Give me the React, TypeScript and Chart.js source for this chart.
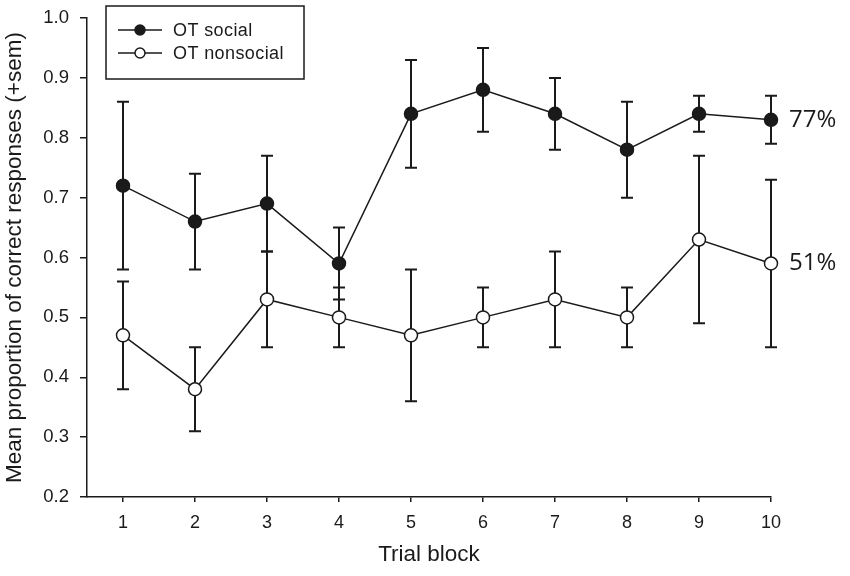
import { Chart, registerables } from "chart.js";
import type { Plugin as ChartPlugin, Scale } from "chart.js";
import { useEffect, useRef } from "react";

Chart.register(...registerables);

const trialBlocks = [1, 2, 3, 4, 5, 6, 7, 8, 9, 10];
const socialMean = [0.72, 0.66, 0.69, 0.59, 0.84, 0.88, 0.84, 0.78, 0.84, 0.83];
const socialSem = [0.14, 0.08, 0.08, 0.06, 0.09, 0.07, 0.06, 0.08, 0.03, 0.04];
const nonsocialMean = [0.47, 0.38, 0.53, 0.5, 0.47, 0.5, 0.53, 0.5, 0.63, 0.59];
const nonsocialSem = [0.09, 0.07, 0.08, 0.05, 0.11, 0.05, 0.08, 0.05, 0.14, 0.14];
const yTicks = [0.2, 0.3, 0.4, 0.5, 0.6, 0.7, 0.8, 0.9, 1.0];
const seriesNames = ["OT social", "OT nonsocial"];
const endLabels = ["77%", "51%"];

const INK = "#1a1a1a";
const SANS = "'Liberation Sans', Arial, sans-serif";

const errorBarPlugin: ChartPlugin = {
    id: "errorBars",
    beforeDatasetsDraw: (chart: Chart) => {
        const ctx = chart.ctx;
        const x = chart.scales.x;
        const y = chart.scales.y;
        const sems = [socialSem, nonsocialSem];
        const means = [socialMean, nonsocialMean];
        ctx.save();
        ctx.strokeStyle = INK;
        ctx.lineWidth = 2;
        means.forEach((mean, s) => {
            mean.forEach((m, i) => {
                const px = x.getPixelForValue(trialBlocks[i]);
                const top = y.getPixelForValue(m + sems[s][i]);
                const bot = y.getPixelForValue(m - sems[s][i]);
                ctx.beginPath();
                ctx.moveTo(px, top);
                ctx.lineTo(px, bot);
                ctx.moveTo(px - 6, top);
                ctx.lineTo(px + 6, top);
                ctx.moveTo(px - 6, bot);
                ctx.lineTo(px + 6, bot);
                ctx.stroke();
            });
        });
        ctx.restore();
    },
    afterDraw: (chart: Chart) => {
        const ctx = chart.ctx;
        const x = chart.scales.x;
        const y = chart.scales.y;
        ctx.save();

        // end-of-line percentages
        ctx.fillStyle = INK;
        ctx.font = "24px 'Open Sans', sans-serif";
        ctx.textAlign = "left";
        ctx.textBaseline = "middle";
        const lastX = x.getPixelForValue(trialBlocks[trialBlocks.length - 1]) + 18;
        ctx.fillText(endLabels[0], lastX, y.getPixelForValue(socialMean[socialMean.length - 1]));
        ctx.fillText(endLabels[1], lastX, y.getPixelForValue(nonsocialMean[nonsocialMean.length - 1]));

        // boxed legend
        ctx.strokeStyle = INK;
        ctx.lineWidth = 1.5;
        ctx.strokeRect(106, 6, 198, 73);
        ctx.font = "18px " + SANS;
        (ctx as any).letterSpacing = "0.4px";
        const fills = [INK, "#ffffff"];
        seriesNames.forEach((name, i) => {
            const ly = 30 + i * 23;
            ctx.beginPath();
            ctx.lineWidth = 1.5;
            ctx.moveTo(118, ly);
            ctx.lineTo(162, ly);
            ctx.stroke();
            ctx.beginPath();
            ctx.arc(140, ly, 5, 0, Math.PI * 2);
            ctx.fillStyle = fills[i];
            ctx.fill();
            ctx.stroke();
            ctx.fillStyle = INK;
            ctx.fillText(name, 173, ly + 1);
        });
        ctx.restore();
    }
};

function App() {
    const canvasRef = useRef<HTMLCanvasElement>(null);

    useEffect(() => {
        if (!canvasRef.current) {
            return;
        }
        const chart = new Chart(canvasRef.current, {
            type: "line",
            data: {
                labels: trialBlocks,
                datasets: [
                    {
                        label: seriesNames[0],
                        data: trialBlocks.map((t, i) => ({ x: t, y: socialMean[i] })),
                        borderColor: INK,
                        borderWidth: 1.5,
                        pointRadius: 6.5,
                        pointBackgroundColor: INK,
                        pointBorderColor: INK,
                        pointBorderWidth: 1.5,
                        fill: false,
                        clip: false
                    },
                    {
                        label: seriesNames[1],
                        data: trialBlocks.map((t, i) => ({ x: t, y: nonsocialMean[i] })),
                        borderColor: INK,
                        borderWidth: 1.5,
                        pointRadius: 6.5,
                        pointBackgroundColor: "#ffffff",
                        pointBorderColor: INK,
                        pointBorderWidth: 1.5,
                        fill: false,
                        clip: false
                    }
                ]
            },
            options: {
                responsive: false,
                animation: false,
                layout: { padding: { top: 18, right: 79, left: 0, bottom: 0 } },
                plugins: {
                    legend: { display: false },
                    tooltip: { enabled: false }
                },
                scales: {
                    x: {
                        type: "linear",
                        min: 0.5,
                        max: 10,
                        afterBuildTicks: (axis: Scale) => {
                            axis.ticks = trialBlocks.map((v) => ({ value: v }));
                        },
                        afterFit: (scale: Scale) => {
                            scale.height = 79;
                        },
                        grid: { display: true, drawOnChartArea: false, drawTicks: true, tickLength: 5, color: INK, lineWidth: 1.5 },
                        border: { display: true, color: INK, width: 1.5 },
                        ticks: {
                            color: INK,
                            font: { family: SANS, size: 18 },
                            padding: 10,
                            callback: (v) => String(v)
                        },
                        title: {
                            display: true,
                            text: "Trial block",
                            color: INK,
                            font: { family: SANS, size: 22.5 },
                            padding: { top: 0, bottom: 8 }
                        }
                    },
                    y: {
                        type: "linear",
                        min: 0.2,
                        max: 1.0,
                        afterBuildTicks: (axis: Scale) => {
                            axis.ticks = yTicks.map((v) => ({ value: v }));
                        },
                        afterFit: (scale: Scale) => {
                            // the wide tick padding would otherwise push the plot top down
                            scale.width = 87;
                            scale.paddingTop = 11;
                            scale.paddingBottom = 11;
                        },
                        grid: { display: true, drawOnChartArea: false, drawTicks: true, tickLength: 7, color: INK, lineWidth: 1.5 },
                        border: { display: true, color: INK, width: 1.5 },
                        ticks: {
                            color: INK,
                            font: { family: SANS, size: 18.5 },
                            padding: 11,
                            callback: (v) => Number(v).toFixed(1)
                        },
                        title: {
                            display: true,
                            text: "Mean proportion of correct responses (+sem)",
                            color: INK,
                            font: { family: SANS, size: 22.5 },
                            padding: { top: 1, bottom: 0 }
                        }
                    }
                }
            },
            plugins: [errorBarPlugin]
        });

        return () => {
            chart.destroy();
        };
    }, []);

    return (
        <div style={{ position: "absolute", left: 0, top: 0, width: 850, height: 576, background: "#ffffff" }}>
            <canvas ref={canvasRef} width={850} height={576} />
        </div>
    );
}

export default App;
